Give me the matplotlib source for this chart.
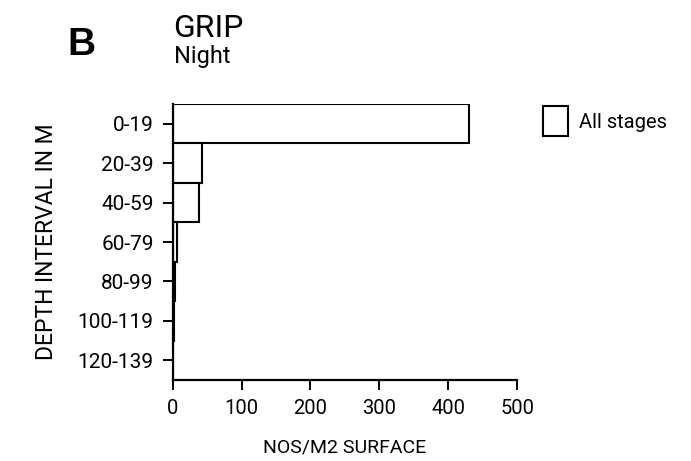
import matplotlib
matplotlib.use("Agg")
import matplotlib.pyplot as plt
from matplotlib.patches import Patch

# data
depths = ["0-19", "20-39", "40-59", "60-79", "80-99", "100-119", "120-139"]
nos_m2 = [430, 42, 38, 6, 3, 2, 0.5]
xticks = [0, 100, 200, 300, 400, 500]

plt.rcParams['font.family'] = ['Roboto', 'DejaVu Sans']

fig = plt.figure(figsize=(6.91, 4.61), dpi=100)
ax = fig.add_axes([0.2497, 0.1757, 0.499, 0.5987])

ax.barh(range(len(depths)), nos_m2, height=1.0, color="white",
        edgecolor="black", linewidth=1.5, align="center")

ax.set_ylim(len(depths) - 0.5, -0.5)
ax.set_xlim(0, 500)
ax.set_yticks(range(len(depths)))
ax.set_yticklabels(depths, fontsize=15)
ax.set_xticks(xticks)
ax.set_xticklabels([str(t) for t in xticks], fontsize=14.5)

for s in ["top", "right"]:
    ax.spines[s].set_visible(False)
ax.spines["left"].set_linewidth(1.6)
ax.spines["bottom"].set_linewidth(1.6)
ax.tick_params(axis="both", direction="out", length=7.5, width=1.4, pad=6)

ax.set_xlabel("NOS/M2 SURFACE", fontsize=14, labelpad=15)
ax.set_ylabel("DEPTH INTERVAL IN M", fontsize=16.5, labelpad=14)

fig.text(0.097, 0.8807, "B", fontsize=28, fontweight="bold",
         family="Liberation Sans", va="baseline")
fig.text(0.251, 0.9197, "GRIP", fontsize=23, va="baseline")
fig.text(0.252, 0.8633, "Night", fontsize=17, va="baseline")

ax.legend(handles=[Patch(facecolor="white", edgecolor="black", linewidth=1.5)],
          labels=["All stages"], fontsize=14.5, frameon=False,
          loc="center left", bbox_to_anchor=(1.074, 0.938),
          borderaxespad=0, borderpad=0,
          handlelength=1.25, handleheight=1.9, handletextpad=0.55)

fig.savefig("out.png", dpi=100)
